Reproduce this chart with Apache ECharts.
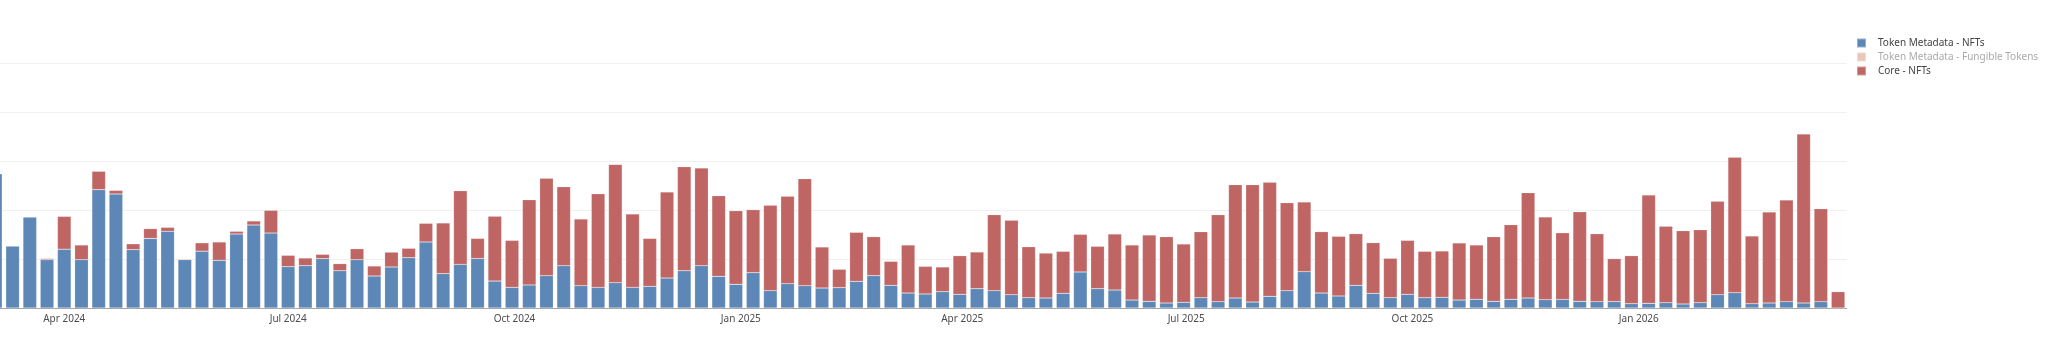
<!DOCTYPE html>
<html>
<head>
<meta charset="utf-8">
<script src="https://cdn.jsdelivr.net/npm/echarts@6/dist/echarts.min.js"></script>
<style>
html,body{margin:0;padding:0;background:#fff;overflow:hidden;width:2048px;height:345px;}
#wrap{position:relative;width:2048px;height:345px;overflow:hidden;}
#chart{position:absolute;left:-15px;top:0;width:2063px;height:345px;}
</style>
</head>
<body>
<div id="wrap"><div id="chart"></div></div>
<script>
// Weekly buckets (week start, Monday)
var weeks = [
 '2024-03-04','2024-03-11','2024-03-18','2024-03-25','2024-04-01','2024-04-08','2024-04-15','2024-04-22','2024-04-29',
 '2024-05-06','2024-05-13','2024-05-20','2024-05-27','2024-06-03','2024-06-10','2024-06-17','2024-06-24',
 '2024-07-01','2024-07-08','2024-07-15','2024-07-22','2024-07-29','2024-08-05','2024-08-12','2024-08-19','2024-08-26',
 '2024-09-02','2024-09-09','2024-09-16','2024-09-23','2024-09-30','2024-10-07','2024-10-14','2024-10-21','2024-10-28',
 '2024-11-04','2024-11-11','2024-11-18','2024-11-25','2024-12-02','2024-12-09','2024-12-16','2024-12-23','2024-12-30',
 '2025-01-06','2025-01-13','2025-01-20','2025-01-27','2025-02-03','2025-02-10','2025-02-17','2025-02-24',
 '2025-03-03','2025-03-10','2025-03-17','2025-03-24','2025-03-31','2025-04-07','2025-04-14','2025-04-21','2025-04-28',
 '2025-05-05','2025-05-12','2025-05-19','2025-05-26','2025-06-02','2025-06-09','2025-06-16','2025-06-23','2025-06-30',
 '2025-07-07','2025-07-14','2025-07-21','2025-07-28','2025-08-04','2025-08-11','2025-08-18','2025-08-25',
 '2025-09-01','2025-09-08','2025-09-15','2025-09-22','2025-09-29','2025-10-06','2025-10-13','2025-10-20','2025-10-27',
 '2025-11-03','2025-11-10','2025-11-17','2025-11-24','2025-12-01','2025-12-08','2025-12-15','2025-12-22','2025-12-29',
 '2026-01-05','2026-01-12','2026-01-19','2026-01-26','2026-02-02','2026-02-09','2026-02-16','2026-02-23',
 '2026-03-02','2026-03-09','2026-03-16','2026-03-23'
];

var seriesNames = ['Token Metadata - NFTs', 'Token Metadata - Fungible Tokens', 'Core - NFTs'];

var tokenMetadataNFTs = [
 274,126.5,185.7,98.6,120,98.6,241.5,232.7,119,142,156.5,98.6,116,97.3,151,169.4,153,84.4,86.4,100.7,
 76,98.6,65.3,83.7,102.7,134.7,70,89,101,55,42,47,66,86.4,45.6,42,51.7,42,44.2,61.2,
 76,86.4,64.6,48.3,72.1,35.4,49.7,45.6,40.8,41.5,54.4,66,46.3,30.6,28.6,33.3,27.9,39.5,35.4,27.2,
 21,20.4,30,73.5,39.5,36.7,16.3,13.6,10.2,11.6,21,12.9,20.4,12.2,23.8,35.4,74.1,30.6,24.5,46.3,
 30,21,27.9,21,21.8,16.3,17.7,13.6,17.7,20.4,17,17.5,13.6,13,13,8.8,9.5,10.9,8.2,10.9,
 27.2,31.3,8.8,10.2,13,10.2,13,0
];

var tokenMetadataFungible = [];

var coreNFTs = [
 0,0,0,2.4,67,30,37.5,7.3,12,20,8.1,1.4,17,37.4,5.5,8.2,46.3,23.1,15.6,8.8,
 14.5,22.4,20.4,30.3,19.1,38.1,103.5,150.5,41,132,96,174,198.6,161.2,136,191,241.3,150,97.8,175.5,
 212.4,199.3,164.7,150.3,128.6,174.1,178.3,218.4,83.7,37.5,100,79.6,48.9,98,56.4,50.4,78.9,74.8,155.1,151.8,
 104,91.6,85.6,76.8,86.4,114.3,112.3,135.4,135.4,119,134.8,177.6,231.3,239.5,232.7,179.6,142.2,125.2,121.8,105.4,
 103.3,80.4,110.1,94.6,94.5,116.4,110.9,132,152.3,215,168.7,135.9,183,138.7,87.7,98,221.1,155.8,149.6,149,
 190.5,276.2,138.2,185.8,207.4,344.8,189.7,33.3
];

var monthNames = ['Jan','Feb','Mar','Apr','May','Jun','Jul','Aug','Sep','Oct','Nov','Dec'];

var FONT = 'Noto Sans';
// time extent matching the category bands: half a week before the first and after the last bucket
var X_MIN = Date.UTC(2024, 1, 29, 12);
var X_MAX = Date.UTC(2026, 2, 26, 12);
var chart = echarts.init(document.getElementById('chart'), null, {renderer: 'canvas'});
var barStyleBase = {borderColor: 'rgba(255,255,255,0.35)', borderWidth: 0.5};

chart.setOption({
  useUTC: true,
  animation: false,
  textStyle: {fontFamily: FONT},
  grid: {left: 0.5, right: 201.3, top: 63, bottom: 37, containLabel: false},
  legend: {
    orient: 'vertical',
    left: 1871,
    top: 37,
    padding: 0,
    icon: 'rect',
    itemWidth: 9,
    itemHeight: 9,
    itemGap: 2,
    textStyle: {fontFamily: FONT, fontSize: 10, color: '#444', lineHeight: 12, padding: [0, 0, 0, 7]},
    data: [
      {name: seriesNames[0]},
      {name: seriesNames[1], textStyle: {color: '#aaa'}},
      {name: seriesNames[2]}
    ]
  },
  xAxis: [
    {
      // weekly buckets for the bars
      type: 'category',
      data: weeks,
      boundaryGap: true,
      axisLine: {show: false},
      axisTick: {show: false},
      axisLabel: {show: false},
      splitLine: {show: false}
    },
    {
      // calendar axis for the quarter labels
      type: 'time',
      min: X_MIN,
      max: X_MAX,
      position: 'bottom',
      splitNumber: 24,
      axisLine: {show: true, onZero: false, lineStyle: {color: '#a6a6a6', width: 1}},
      axisTick: {show: false},
      splitLine: {show: false},
      axisLabel: {
        fontFamily: FONT,
        fontSize: 10,
        color: '#4d4d4d',
        margin: 6,
        hideOverlap: false,
        formatter: function (value) {
          var d = new Date(value);
          if (d.getUTCDate() !== 1 || d.getUTCHours() !== 0 || d.getUTCMonth() % 3 !== 0) return '';
          return monthNames[d.getUTCMonth()] + ' ' + d.getUTCFullYear();
        }
      }
    }
  ],
  yAxis: {
    type: 'value',
    min: 0,
    max: 500,
    interval: 100,
    axisLine: {show: false},
    axisTick: {show: false},
    axisLabel: {show: false},
    splitLine: {lineStyle: {color: '#f0f0f0', width: 1}}
  },
  series: [
    {
      name: seriesNames[0], type: 'bar', stack: 'total', barWidth: '79%', xAxisIndex: 0,
      itemStyle: Object.assign({color: '#5c87b6'}, barStyleBase),
      data: tokenMetadataNFTs
    },
    {
      name: seriesNames[1], type: 'bar', stack: 'total', barWidth: '79%', xAxisIndex: 0,
      itemStyle: Object.assign({color: '#ebc7ba'}, barStyleBase),
      data: tokenMetadataFungible
    },
    {
      name: seriesNames[2], type: 'bar', stack: 'total', barWidth: '79%', xAxisIndex: 0,
      itemStyle: Object.assign({color: '#bf6664'}, barStyleBase),
      data: coreNFTs
    }
  ]
});
</script>
</body>
</html>
